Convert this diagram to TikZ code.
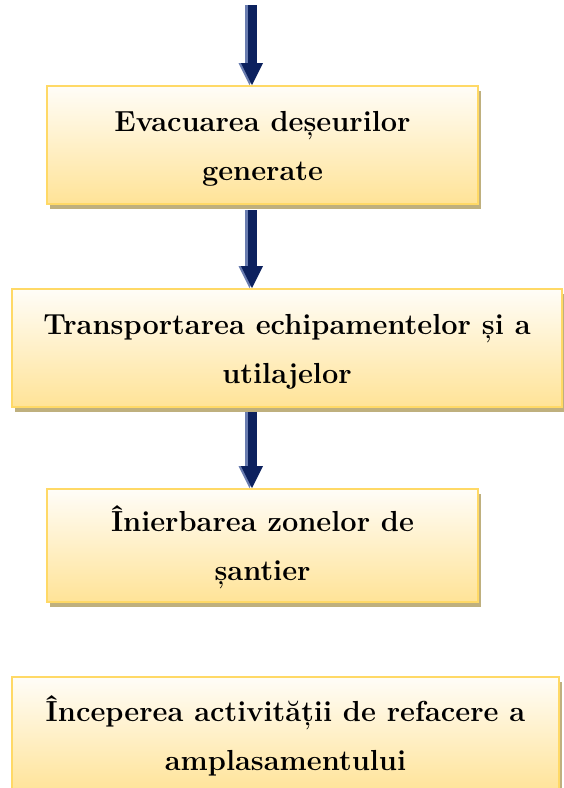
\documentclass[tikz,border=0pt]{standalone}
\usepackage{fontspec}
\usepackage{xcolor}
\usepackage{tikz}
\usetikzlibrary{arrows.meta, positioning, shadows}

\definecolor{boxedge}{HTML}{FFD966}
\definecolor{boxtop}{HTML}{FFFDF8}
\definecolor{boxbot}{HTML}{FFE397}
\definecolor{boxshade}{HTML}{BFB07E}
\definecolor{navydark}{HTML}{0C215E}
\definecolor{navylight}{HTML}{6A7DB0}

\begin{document}
\begin{tikzpicture}[
  x=1pt, y=1pt,
  font=\fontsize{29}{49}\selectfont\bfseries,
  stage/.style={draw=boxedge, line width=2pt, align=center,
                text height=71pt, text depth=1pt,
                top color=boxtop, bottom color=boxbot,
                general shadow={fill=boxshade, shadow xshift=3pt, shadow yshift=-5pt}},
  flow/.style={line width=9pt, draw=navydark,
               -{Triangle[width=22pt, length=22pt, line width=0pt]},
               preaction={draw=navylight, line width=9pt,
                          -{Triangle[width=22pt, length=22pt, line width=0pt]},
                          transform canvas={xshift=-2.5pt}}}
]
\useasboundingbox (0,0) rectangle (563,-788);

\node[stage, minimum width=431pt, minimum height=118pt] (evac) at (262.5,-145)
     {Evacuarea deșeurilor\\generate};
\node[stage, minimum width=550pt, minimum height=118pt,
      below=83pt of evac, xshift=24.5pt] (transp)
     {Transportarea echipamentelor și a\\utilajelor};
\node[stage, minimum width=431pt, minimum height=113pt,
      below=80pt of transp, xshift=-24.5pt] (inierb)
     {Înierbarea zonelor de\\șantier};
\node[stage, minimum width=547pt, minimum height=116pt,
      below=73pt of inierb, xshift=23pt] (refac)
     {Începerea activității de refacere a\\amplasamentului};

\coordinate (start) at (252,-5);
\draw[flow] (start) -- (start |- evac.north);
\draw[flow] (start |- evac.south) ++(0,-5) -- (start |- transp.north);
\draw[flow] (start |- transp.south) ++(0,-4) -- (start |- inierb.north);
\end{tikzpicture}
\end{document}
